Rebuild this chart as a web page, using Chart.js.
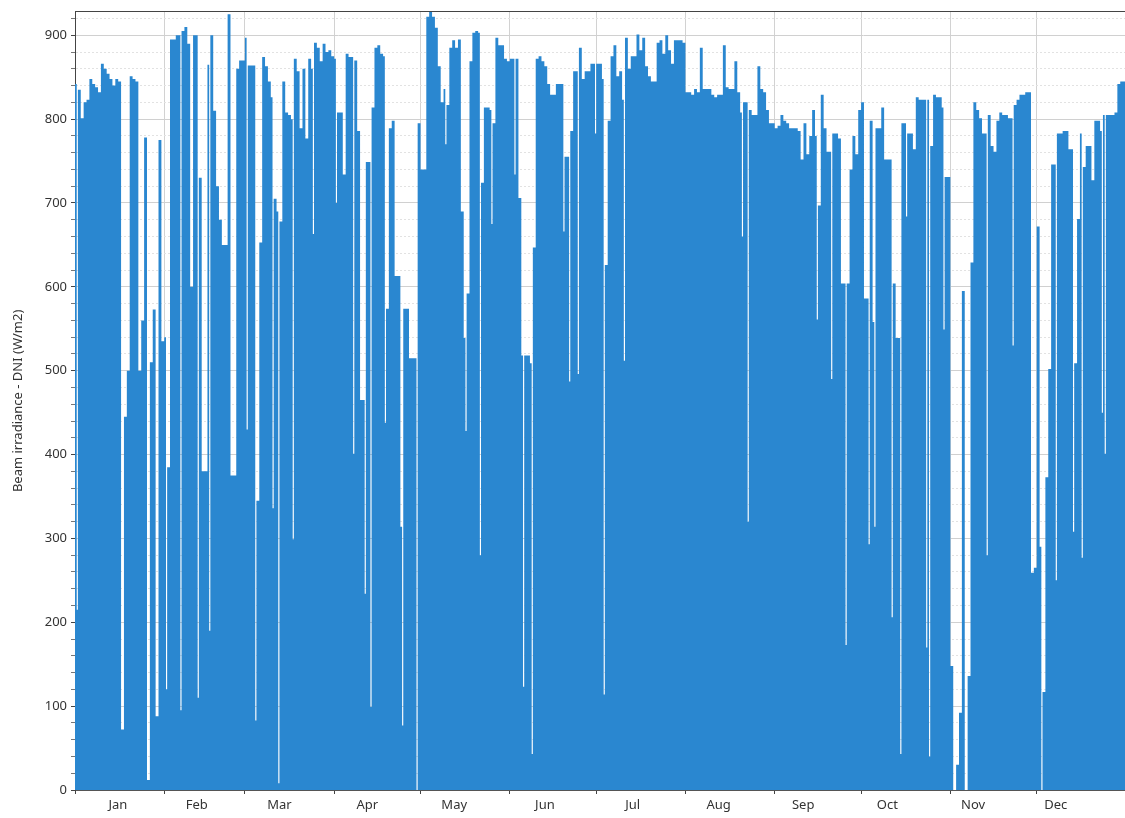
<!DOCTYPE html>
<html>
<head>
<meta charset="utf-8">
<title>Beam irradiance - DNI</title>
<script src="https://cdn.jsdelivr.net/npm/chart.js@4.4.1/dist/chart.umd.min.js"></script>
<style>
  html, body { margin: 0; padding: 0; background: #ffffff; overflow: hidden; }
  #wrap { width: 1125px; height: 818px; overflow: hidden; position: relative; }
  canvas { display: block; }
</style>
</head>
<body>
<div id="wrap"><canvas id="chart" width="1129" height="818"></canvas></div>
<script>
// Month names, lengths and where each month name sits on the day axis
const monthNames = ['Jan', 'Feb', 'Mar', 'Apr', 'May', 'Jun', 'Jul', 'Aug', 'Sep', 'Oct', 'Nov', 'Dec'];
const monthDays = [31, 28, 31, 30, 31, 30, 31, 31, 30, 31, 30, 31];
const monthLabelDays = [14.9, 42.3, 71.0, 101.5, 131.7, 163.2, 193.7, 223.5, 252.9, 282.1, 311.9, 340.6];

// Daily peak beam irradiance (W/m2), one value per day
const jan = [842, 835, 801, 820, 823, 848, 842, 838, 832, 866, 860, 854, 848, 840, 848, 845, 72, 445, 500, 851,
             848, 845, 500, 560, 778, 12, 510, 573, 88, 775, 535];
const feb = [540, 385, 895, 895, 900, 900, 905, 910, 890, 600, 900, 900, 730, 380, 380, 865, 900, 810, 720, 680,
             650, 650, 925, 375, 375, 860, 870, 870];
const mar = [897, 864, 864, 864, 345, 653, 874, 863, 845, 826, 705, 690, 678, 845, 808, 805, 800, 872, 857, 789,
             860, 777, 872, 860, 891, 885, 869, 890, 880, 882, 875];
const apr = [872, 808, 808, 734, 878, 874, 874, 870, 786, 465, 465, 749, 749, 814, 885, 888, 878, 875, 574, 789,
             798, 613, 613, 314, 574, 574, 515, 515, 515, 795];
const may = [740, 740, 922, 928, 922, 909, 863, 820, 836, 817, 885, 894, 885, 895, 690, 539, 592, 869, 903, 905,
             903, 724, 814, 814, 811, 795, 897, 888, 888, 872, 869];
const jun = [872, 872, 872, 706, 518, 518, 518, 509, 647, 872, 875, 869, 863, 842, 829, 829, 842, 842, 842, 755,
             755, 786, 857, 857, 885, 848, 857, 857, 866, 866];
const jul = [866, 866, 848, 626, 798, 875, 888, 851, 857, 823, 897, 860, 875, 875, 901, 882, 897, 863, 851, 845,
             845, 891, 894, 878, 900, 882, 866, 894, 894, 894, 891];
const aug = [832, 832, 829, 836, 832, 885, 836, 836, 836, 829, 826, 829, 829, 888, 838, 836, 836, 869, 832, 808,
             820, 820, 811, 805, 805, 863, 836, 832, 811, 795, 795];
const sep = [789, 792, 805, 798, 795, 789, 789, 789, 786, 752, 795, 758, 780, 811, 780, 697, 829, 789, 761, 761,
             783, 783, 777, 604, 604, 604, 740, 780, 758, 811];
const oct = [820, 586, 586, 798, 558, 789, 789, 814, 752, 752, 752, 604, 539, 539, 795, 795, 783, 783, 764, 826,
             823, 823, 823, 823, 768, 829, 826, 826, 814, 731, 731];
const nov = [148, 0, 30, 92, 595, 0, 136, 629, 820, 811, 801, 783, 783, 805, 768, 761, 798, 808, 805, 805,
             801, 801, 817, 823, 829, 829, 832, 832, 259, 265];
const dec = [672, 290, 117, 373, 502, 746, 746, 783, 783, 786, 786, 764, 764, 509, 681, 783, 743, 768, 768, 727,
             798, 798, 786, 805, 805, 805, 805, 808, 842, 845, 845];

// Short drops late in a day: [day of year (0-based), lowest value]
const dips = [
  [0, 215],
  [31, 120], [36, 95], [42, 110], [46, 190],
  [59, 430], [62, 83], [68, 336], [70, 8], [75, 299], [82, 663],
  [90, 700], [96, 401], [100, 234], [102, 99], [107, 438], [113, 77], [118, 0],
  [128, 770], [135, 428], [140, 280], [144, 675],
  [152, 734], [155, 123], [158, 43], [169, 666], [171, 487], [174, 496], [180, 783],
  [183, 114], [190, 512],
  [231, 660], [233, 320],
  [257, 561], [262, 490], [267, 173],
  [275, 293], [277, 314], [283, 206], [286, 43], [288, 684], [295, 170], [296, 40], [301, 549],
  [316, 280], [325, 530],
  [335, 0], [340, 250], [346, 308], [349, 277], [356, 450], [357, 401]
];

// Value axis
const yMin = 0;
const yMax = 928;
const yMajorStep = 100;
const yMinorStep = 20;

// ---- build the series ----
const DIP_START = 0.6;   // fraction of the day where a late drop begins
const peaks = [].concat(jan, feb, mar, apr, may, jun, jul, aug, sep, oct, nov, dec);
const dipByDay = new Map(dips);
const points = [];
peaks.forEach((v, d) => {
  points.push({ x: d, y: v });
  if (dipByDay.has(d)) points.push({ x: d + DIP_START, y: dipByDay.get(d) });
});
points.push({ x: peaks.length, y: peaks[peaks.length - 1] });

const boundaries = [0];
monthDays.forEach(n => boundaries.push(boundaries[boundaries.length - 1] + n));
const boundarySet = new Set(boundaries);
const labelAt = new Map(monthLabelDays.map((d, i) => [d, monthNames[i]]));

const FONT = 'Noto Sans, "Open Sans", Arial, sans-serif';
const INK = '#333333';

new Chart(document.getElementById('chart'), {
  type: 'line',
  data: {
    datasets: [{
      label: 'Beam irradiance - DNI (W/m2)',
      data: points,
      xAxisID: 'x',
      yAxisID: 'y',
      stepped: true,
      fill: 'origin',
      backgroundColor: '#2a87d0',
      borderColor: 'rgba(0,0,0,0)',
      borderWidth: 0,
      pointRadius: 0,
      pointHoverRadius: 0
    }]
  },
  options: {
    responsive: false,
    animation: false,
    devicePixelRatio: 1,
    parsing: false,
    normalized: true,
    layout: { padding: { top: 11, right: 1, left: 0, bottom: 0 } },
    plugins: { legend: { display: false }, tooltip: { enabled: false } },
    scales: {
      x: {
        type: 'linear',
        position: 'bottom',
        min: 0,
        max: peaks.length,
        afterBuildTicks: s => {
          const vals = boundaries.concat(monthLabelDays).sort((a, b) => a - b);
          s.ticks = vals.map(v => ({ value: v }));
        },
        afterFit: s => { s.height = 28; },
        ticks: {
          autoSkip: false,
          maxRotation: 0,
          padding: 3,
          color: INK,
          font: { family: FONT, size: 13 },
          callback: v => labelAt.get(v) || ''
        },
        grid: {
          color: c => (c.tick && boundarySet.has(c.tick.value)) ? '#d2d2d2' : 'rgba(0,0,0,0)',
          tickColor: c => (c.tick && boundarySet.has(c.tick.value)) ? '#444' : 'rgba(0,0,0,0)',
          tickLength: 4
        },
        border: { color: '#555', width: 1 }
      },
      xTop: {
        type: 'linear',
        position: 'top',
        min: 0,
        max: peaks.length,
        afterFit: s => { s.height = 0; },
        ticks: { display: false },
        grid: { drawOnChartArea: false, drawTicks: false },
        border: { color: '#444', width: 1 }
      },
      y: {
        type: 'linear',
        position: 'left',
        min: yMin,
        max: yMax,
        afterBuildTicks: s => {
          const t = [];
          for (let v = yMin; v <= yMax; v += yMinorStep) t.push({ value: v });
          s.ticks = t;
        },
        afterFit: s => { s.width = 75; },
        ticks: {
          autoSkip: false,
          padding: 4,
          color: INK,
          font: { family: FONT, size: 13 },
          callback: v => (v % yMajorStep === 0 ? String(v) : '')
        },
        grid: {
          color: c => (c.tick && c.tick.value % yMajorStep !== 0) ? '#e2e2e2' : '#d0d0d0',
          tickColor: c => (c.tick && c.tick.value % yMajorStep !== 0) ? '#777' : '#444',
          tickLength: 4
        },
        border: {
          color: '#444',
          width: 1,
          dash: c => (c.tick && c.tick.value % yMajorStep !== 0) ? [2, 2] : []
        },
        title: {
          display: true,
          text: 'Beam irradiance - DNI (W/m2)',
          color: INK,
          font: { family: FONT, size: 13 },
          padding: { top: 10, bottom: 0 }
        }
      }
    }
  }
});
</script>
</body>
</html>
